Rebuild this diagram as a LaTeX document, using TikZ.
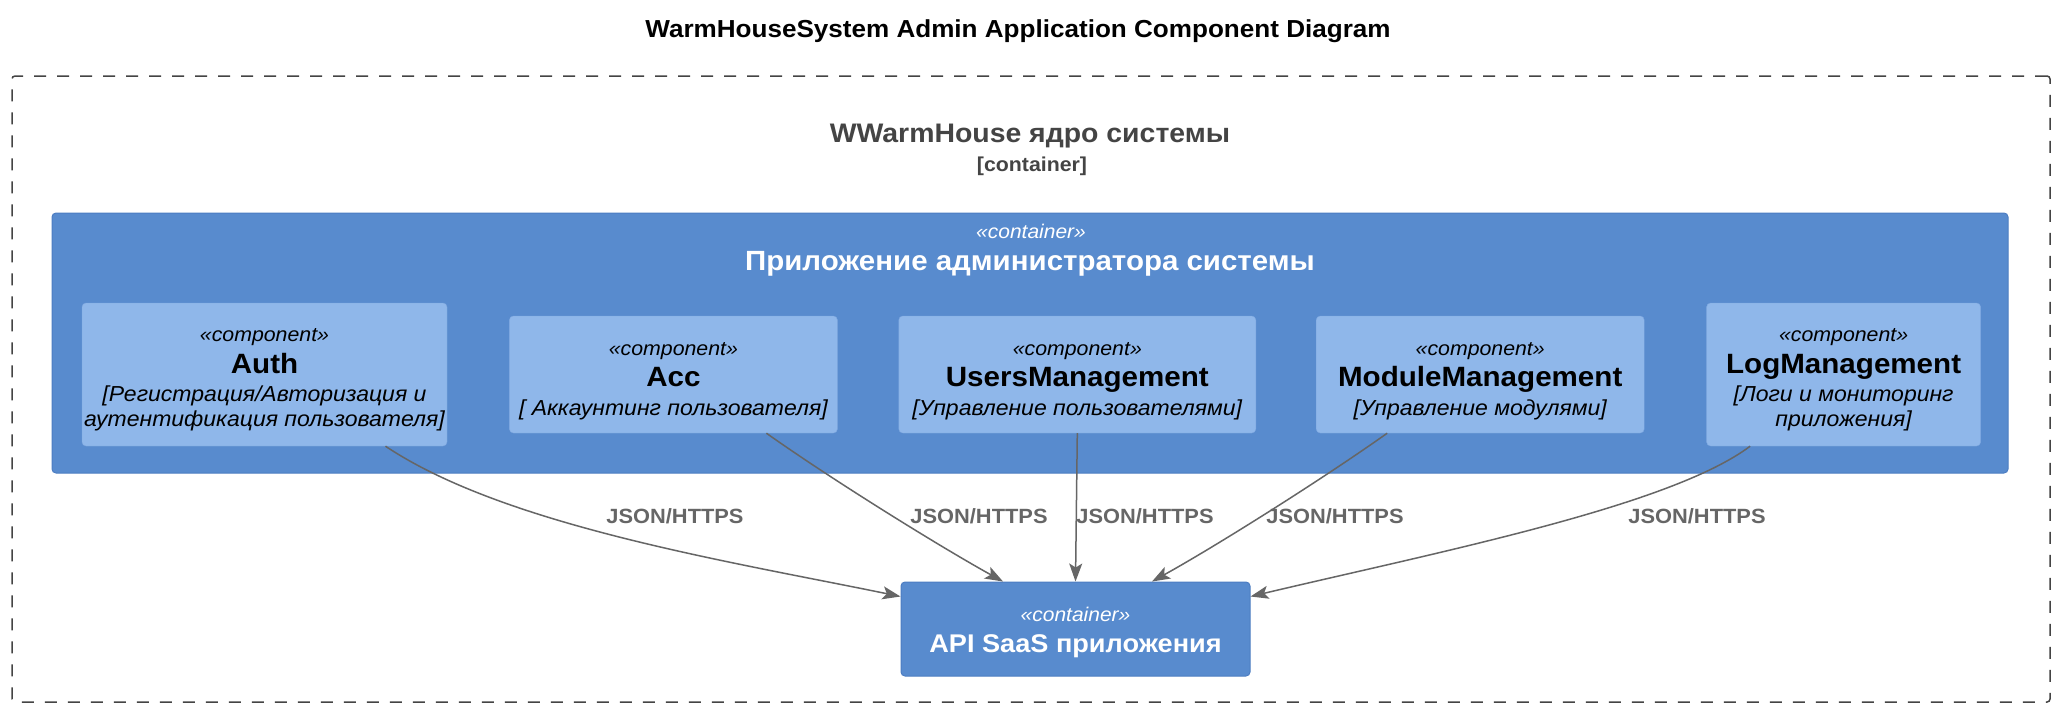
\documentclass[tikz,border=0pt]{standalone}
\usepackage{fontspec}
\setmainfont{Liberation Sans}[FakeStretch=1.06]
\usetikzlibrary{positioning,arrows.meta}

\definecolor{contblue}{HTML}{588BCE}
\definecolor{contline}{HTML}{4C7DC2}
\definecolor{compblue}{HTML}{8FB7EA}
\definecolor{compline}{HTML}{7FA8E0}
\definecolor{relgray}{HTML}{666666}
\definecolor{bndgray}{HTML}{444444}

\newcommand{\pxfont}[2]{\fontsize{#1}{#2}\selectfont}

\begin{document}
\begin{tikzpicture}[x=1pt,y=-1pt,
		boundary/.style={draw=bndgray,line width=1.5pt,dash pattern=on 12pt off 11pt,rounded corners=3pt,inner sep=0pt},
		contbox/.style={draw=contline,fill=contblue,rounded corners=4pt,inner sep=0pt,line width=1pt},
		compbox/.style={draw=compline,fill=compblue,rounded corners=4pt,inner sep=0pt,align=center,font=\pxfont{21.7}{26}\itshape,text depth=0pt},
		comptall/.style={minimum height=143pt,text height=103pt},
		compshort/.style={minimum height=117pt,text height=81.6pt},
		headtext/.style={anchor=base,inner sep=0pt},
		rel/.style={draw=relgray,line width=1.5pt,-{Stealth[length=18pt,width=13pt,inset=4pt]}},
		reltext/.style={font=\pxfont{20.6}{24}\bfseries,text=relgray,inner sep=0pt}]
		\fill[white] (0,0) rectangle (2056,710);
		\useasboundingbox (0,0) rectangle (2056,710);

		\node[headtext,font=\pxfont{24.6}{28}\bfseries]				(title)		at (1018,37)	{WarmHouseSystem Admin Application Component Diagram};

		% boundary
		\node[boundary,minimum width=2038pt,minimum height=626pt]		(core)		at (1031,389)	{};
		\node[headtext,font=\pxfont{26.8}{30}\bfseries,text=bndgray]	(corename)	at (1030,142.3)	{WWarmHouse ядро системы};
		\node[headtext,font=\pxfont{20.1}{24}\bfseries,text=bndgray]	(coretype)	at (1032,171)	{[container]};

		% admin application
		\node[contbox,minimum width=1956pt,minimum height=260pt]		(app)		at (1030,343)	{};
		\node[headtext,font=\pxfont{19.8}{24}\itshape,text=white]		(appstereo)	at (1031,238.3)	{«container»};
		\node[headtext,font=\pxfont{27.8}{30}\bfseries,text=white]		(appname)	at (1030,270)	{Приложение администратора системы};

		\node[compbox,comptall,minimum width=365pt]						(auth)		at (264.5,374.5)
			{{\pxfont{20.1}{26}«component»}\\[5.6pt]{\upshape\bfseries\pxfont{27.9}{26}Auth}\\[2.4pt]{[}Регистрация/Авторизация и\\[-1.7pt]аутентификация пользователя{]}};
		\node[compbox,compshort,minimum width=328pt,right=62pt of auth]	(acc)
			{{\pxfont{20.1}{26}«component»}\\[5.6pt]{\upshape\bfseries\pxfont{27.9}{26}Acc}\\[2.4pt]{[} Аккаунтинг пользователя{]}};
		\node[compbox,compshort,minimum width=357pt,right=61pt of acc]	(users)
			{{\pxfont{20.1}{26}«component»}\\[5.6pt]{\upshape\bfseries\pxfont{27.9}{26}UsersManagement}\\[2.4pt]{[}Управление пользователями{]}};
		\node[compbox,compshort,minimum width=328pt,right=60pt of users]	(module)
			{{\pxfont{20.1}{26}«component»}\\[5.6pt]{\upshape\bfseries\pxfont{27.9}{26}ModuleManagement}\\[2.4pt]{[}Управление модулями{]}};
		\node[compbox,comptall,minimum width=274pt,right=62pt of module]	(logm)
			{{\pxfont{20.1}{26}«component»}\\[5.6pt]{\upshape\bfseries\pxfont{27.9}{26}LogManagement}\\[2.4pt]{[}Логи и мониторинг\\[-1.7pt]приложения{]}};

		% api
		\node[contbox,align=center,minimum width=349pt,minimum height=94pt,font=\pxfont{25.6}{26}\bfseries,text=white,text height=46pt,text depth=0pt]	(api)	at (1075.5,629)
			{{\mdseries\itshape\pxfont{19.8}{26}«container»}\\[5pt]API SaaS приложения};

		\draw[rel] ([xshift=121pt]auth.south) .. controls +(120,80) and +(-170,-35) .. ([yshift=-15pt]api.north west);
		\draw[rel] ([xshift=93pt]acc.south) .. controls +(65,46) and +(-65,-36) .. ([xshift=-72.5pt]api.north);
		\draw[rel] (users.south) -- (api.north);
		\draw[rel] ([xshift=-93pt]module.south) .. controls +(-65,46) and +(65,-36) .. ([xshift=76.5pt]api.north);
		\draw[rel] ([xshift=-93.5pt]logm.south) .. controls +(-80,60) and +(190,-45) .. ([yshift=-15pt]api.north east);

		\node[reltext]	(authrel)	at (675,516)	{JSON/HTTPS};
		\node[reltext]	(accrel)	at (979,516)	{JSON/HTTPS};
		\node[reltext]	(usersrel)	at (1145,516)	{JSON/HTTPS};
		\node[reltext]	(modulerel)	at (1335,516)	{JSON/HTTPS};
		\node[reltext]	(logmrel)	at (1697,516)	{JSON/HTTPS};
	\end{tikzpicture}
\end{document}
